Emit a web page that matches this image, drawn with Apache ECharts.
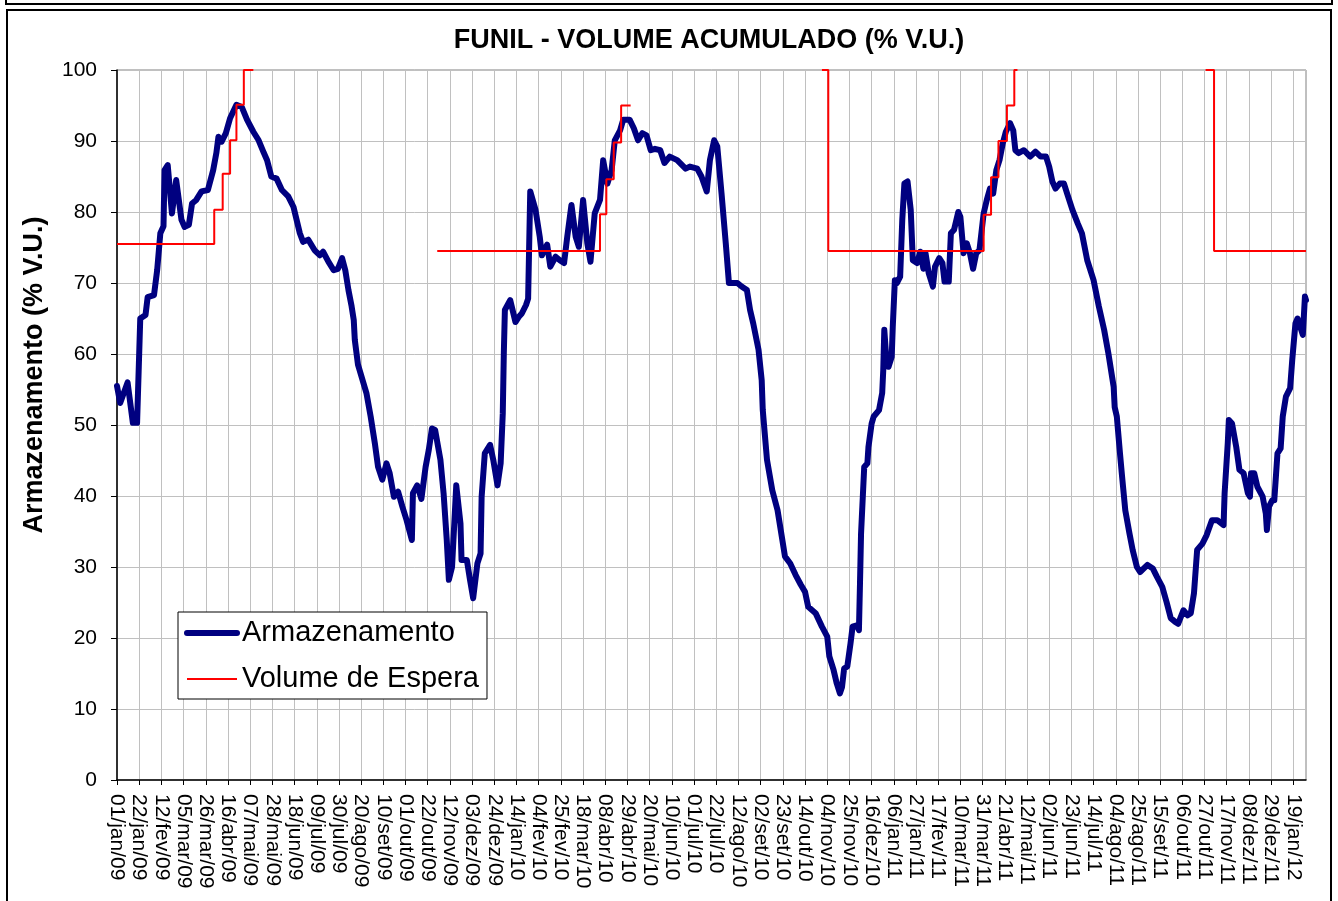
<!DOCTYPE html>
<html>
<head>
<meta charset="utf-8">
<script src="https://cdn.jsdelivr.net/npm/echarts@6.0.0/dist/echarts.min.js"></script>
<style>
  html, body { margin: 0; padding: 0; background: #fff; }
  #chart { width: 1338px; height: 901px; }
</style>
</head>
<body>
<div id="chart"></div>
<script>
// dias contados a partir de 01/jan/09
const rotulosX = ['01/jan/09','22/jan/09','12/fev/09','05/mar/09','26/mar/09','16/abr/09','07/mai/09','28/mai/09','18/jun/09','09/jul/09','30/jul/09','20/ago/09','10/set/09','01/out/09','22/out/09','12/nov/09','03/dez/09','24/dez/09','14/jan/10','04/fev/10','25/fev/10','18/mar/10','08/abr/10','29/abr/10','20/mai/10','10/jun/10','01/jul/10','22/jul/10','12/ago/10','02/set/10','23/set/10','14/out/10','04/nov/10','25/nov/10','16/dez/10','06/jan/11','27/jan/11','17/fev/11','10/mar/11','31/mar/11','21/abr/11','12/mai/11','02/jun/11','23/jun/11','14/jul/11','04/ago/11','25/ago/11','15/set/11','06/out/11','27/out/11','17/nov/11','08/dez/11','29/dez/11','19/jan/12']
const passoDias = 21
const ultimoDia = 1125

const armDia = [0,3,10,15,19,22,27,29,35,38,41,44,45,48,52,56,61,64,68,71,75,80,86,91,94,96,99,103,107,113,118,123,129,134,139,142,146,151,156,162,167,173,176,181,187,192,195,200,205,209,213,216,219,222,224,225,228,236,240,244,247,251,255,258,262,266,270,274,279,280,284,288,292,295,298,301,306,309,312,314,317,321,325,326,331,334,337,341,344,345,348,353,356,360,363,365,366,367,372,377,380,383,387,389,391,396,400,402,407,410,415,419,423,426,430,434,437,441,445,448,452,457,460,464,468,471,476,479,485,489,493,497,501,505,509,514,518,523,530,538,542,549,553,558,561,565,568,572,576,579,587,591,596,599,602,607,610,611,615,620,625,629,632,637,642,647,651,654,661,667,672,674,678,681,684,686,688,691,694,696,700,702,703,704,707,710,711,714,716,721,724,725,726,728,730,733,734,736,738,741,743,745,748,751,753,757,760,763,765,768,772,774,778,781,783,787,789,792,796,798,801,804,807,810,813,816,820,823,826,829,832,835,838,841,845,848,850,853,858,864,869,874,879,882,885,888,892,896,899,904,909,913,918,924,929,934,938,943,944,946,949,951,954,958,961,965,968,975,980,984,989,993,997,1001,1004,1009,1013,1016,1019,1022,1027,1031,1036,1041,1047,1048,1051,1052,1055,1059,1062,1066,1070,1072,1073,1076,1079,1084,1087,1088,1090,1093,1095,1098,1101,1103,1106,1110,1112,1115,1117,1122,1124,1125]
const armValor = [55.5,53.1,56.0,50.3,50.3,65.0,65.5,68.0,68.3,71.8,77.0,78.0,85.9,86.6,79.8,84.5,78.9,77.9,78.2,81.2,81.7,82.9,83.1,85.9,88.3,90.6,89.9,91.1,93.2,95.1,94.8,93.0,91.3,90.1,88.3,87.3,85.0,84.7,83.1,82.2,80.7,77.0,75.8,76.1,74.6,73.9,74.4,73.0,71.8,72.0,73.5,71.8,69.0,66.7,64.8,62.0,58.5,54.5,51.2,47.4,44.1,42.3,44.6,43.2,39.9,40.6,38.5,36.6,33.8,40.4,41.5,39.6,44.1,46.5,49.5,49.3,45.1,40.4,33.8,28.2,30.0,41.5,36.1,31.0,31.0,28.2,25.6,30.5,31.9,39.9,46.0,47.2,45.1,41.5,44.6,51.6,60.1,66.2,67.6,64.5,65.2,65.7,66.9,67.8,82.9,80.3,76.5,73.9,75.4,72.3,73.7,73.2,72.8,76.5,81.0,76.5,75.1,81.7,75.6,73.0,79.8,81.7,87.3,84.0,85.9,90.1,91.5,93.0,93.0,91.8,90.1,91.1,90.8,88.7,88.9,88.7,86.9,87.8,87.3,86.1,86.4,86.1,85.0,82.9,87.3,90.1,89.2,82.6,75.6,70.0,70.0,69.5,69.0,66.2,64.3,60.6,56.3,52.1,45.1,40.8,38.0,34.3,31.5,30.5,28.9,27.5,26.5,24.4,23.5,21.6,20.2,17.4,15.5,13.6,12.2,13.1,15.7,16.0,19.2,21.6,21.8,21.1,27.7,34.7,44.1,44.6,46.9,50.2,51.2,52.1,54.5,57.7,63.4,59.2,58.2,59.6,63.8,70.4,70.0,70.9,78.9,84.0,84.3,80.3,73.2,72.8,74.4,72.0,74.2,71.4,69.5,72.3,73.5,72.8,70.2,70.2,77.0,77.5,80.0,79.3,74.2,75.6,74.2,72.0,74.2,74.6,79.8,81.7,83.3,82.6,85.9,87.3,89.6,91.3,92.5,91.5,88.7,88.3,88.7,87.8,88.5,87.8,87.8,86.4,84.3,83.3,84.0,84.0,82.6,80.3,78.4,77.0,73.2,70.4,66.7,63.4,60.1,55.4,52.5,51.2,46.0,42.7,38.0,34.7,32.4,30.0,29.3,30.3,29.8,28.6,27.2,25.1,22.8,22.3,22.0,23.9,23.2,23.5,26.3,32.4,33.3,34.5,36.6,36.6,35.9,40.4,47.5,50.7,50.2,46.9,43.7,43.2,40.4,39.9,43.2,43.2,41.3,39.9,37.5,35.2,38.5,39.4,39.4,46.0,46.7,51.2,54.0,55.2,59.2,64.3,65.0,62.7,68.1,67.6]

// Volume de Espera (degraus; null = sem restricao)
const espDia = [0,92,100,107,113,120,128,129,303,457,463,470,477,485,486,667,673,820,827,834,842,849,851,852,1030,1038,1125]
const espValor = [75.5,80.3,85.4,90.1,95.1,100,100,null,74.5,79.7,84.6,89.8,95,95,null,100,74.5,79.6,84.9,90,95,100,100,null,100,74.5,74.5]

const fonte = "'Liberation Sans', Arial, sans-serif"
const ticksX = rotulosX.map((_, i) => i * passoDias)

const chart = echarts.init(document.getElementById('chart'), null, { renderer: 'canvas' })
chart.setOption({
    animation: false,
    backgroundColor: '#fff',
    title: {
        text: 'FUNIL - VOLUME ACUMULADO (% V.U.)',
        left: 704,
        top: 22,
        textAlign: 'center',
        textStyle: { fontFamily: fonte, fontSize: 27, fontWeight: 'bold', color: '#000' }
    },
    grid: { left: 117, right: 32, top: 70, bottom: 121, show: true, borderColor: '#808080', borderWidth: 1 },
    legend: {
        orient: 'vertical',
        left: 178,
        top: 612,
        padding: [4, 8, 3, 6],
        itemGap: 12,
        itemWidth: 50,
        itemHeight: 14,
        backgroundColor: '#fff',
        borderColor: '#000',
        borderWidth: 1,
        itemStyle: { opacity: 0 },
        textStyle: { fontFamily: fonte, fontSize: 29, color: '#000', lineHeight: 34 },
        data: [
            { name: 'Armazenamento', lineStyle: { width: 6, color: '#000080' } },
            { name: 'Volume de Espera', lineStyle: { width: 2, color: '#ff0000' } }
        ]
    },
    xAxis: {
        type: 'value',
        min: 0,
        max: ultimoDia,
        interval: passoDias,
        axisLine: { lineStyle: { color: '#000', width: 1.5 } },
        axisTick: { show: true, length: 5, lineStyle: { color: '#000' }, customValues: ticksX },
        axisLabel: {
            rotate: -90,
            margin: 14,
            fontFamily: fonte,
            fontSize: 21,
            color: '#000',
            customValues: ticksX,
            formatter: v => rotulosX[Math.round(v / passoDias)] || ''
        },
        splitLine: { show: true, lineStyle: { color: '#c0c0c0', width: 1 } }
    },
    yAxis: {
        type: 'value',
        min: 0,
        max: 100,
        interval: 10,
        axisLine: { show: true, lineStyle: { color: '#000', width: 1.5 } },
        axisTick: { show: true, length: 6, lineStyle: { color: '#000' } },
        axisLabel: { margin: 20, fontFamily: fonte, fontSize: 21, color: '#000' },
        splitLine: { show: true, lineStyle: { color: '#c0c0c0', width: 1 } }
    },
    graphic: [
        { type: 'rect', shape: { x: 6, y: -20, width: 1326, height: 24 }, style: { fill: 'none', stroke: '#000', lineWidth: 2 } },
        { type: 'rect', shape: { x: 7, y: 10, width: 1324, height: 910 }, style: { fill: 'none', stroke: '#000', lineWidth: 2 } },
        {
            type: 'text',
            x: 35,
            y: 375,
            rotation: Math.PI / 2,
            style: {
                text: 'Armazenamento (% V.U.)',
                fontFamily: fonte,
                fontSize: 27,
                fontWeight: 'bold',
                fill: '#000',
                align: 'center',
                verticalAlign: 'middle'
            }
        }
    ],
    series: [
        {
            name: 'Armazenamento',
            type: 'line',
            symbol: 'none',
            lineStyle: { color: '#000080', width: 6, join: 'round', cap: 'round' },
            itemStyle: { color: '#000080' },
            data: armDia.map((d, i) => [d, armValor[i]])
        },
        {
            name: 'Volume de Espera',
            type: 'line',
            step: 'end',
            symbol: 'none',
            lineStyle: { color: '#ff0000', width: 2 },
            itemStyle: { color: '#ff0000' },
            data: espDia.map((d, i) => [d, espValor[i]])
        }
    ]
})
</script>
</body>
</html>
